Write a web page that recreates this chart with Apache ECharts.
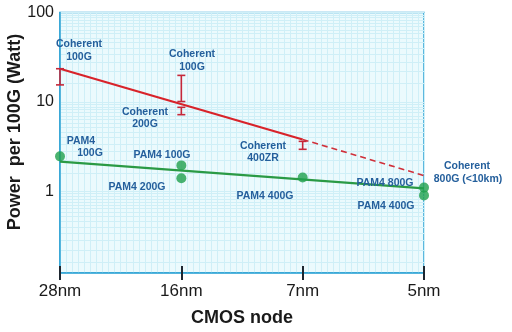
<!DOCTYPE html>
<html>
<head>
<meta charset="utf-8">
<script src="https://cdn.jsdelivr.net/npm/echarts@6/dist/echarts.min.js"></script>
<style>html,body{margin:0;padding:0;background:#fff}#c{width:512px;height:332px}</style>
</head>
<body>
<div id="c"></div>
<script>
// ---- data ----
const nodes = ['28nm', '16nm', '7nm', '5nm'];
const yTickLabels = [1, 10, 100];
const coherentTrendX = [0, 2];
const coherentTrendY = [23.5, 3.8];
const coherentProjX = [2, 3];
const coherentProjY = [3.8, 1.5];
const pam4TrendX = [0, 3];
const pam4TrendY = [2.15, 1.08];
const pam4PointX = [0, 1, 1, 2, 3, 3];
const pam4PointY = [2.46, 1.95, 1.4, 1.43, 1.1, 0.9];
const errX = [0, 1, 1, 2];
const errLow = [15.5, 10.1, 7.2, 2.95];
const errHigh = [23.5, 19.8, 8.7, 3.62];

const zip = (xs, ys) => xs.map((x, i) => [x, ys[i]]);

const txtColor = '#245f9c';
const annFont = 'bold 10.5px "Liberation Sans", Arial, sans-serif';
function ann(text, x, y) {
  return { type: 'text', x: x, y: y, z: 50,
    style: { text: text, font: annFont, fill: txtColor, align: 'center', verticalAlign: 'middle' } };
}

const chart = echarts.init(document.getElementById('c'), null, { renderer: 'canvas' });
const gridLine = '#cfeff7';
const option = {
  backgroundColor: '#ffffff',
  animation: false,
  grid: { left: 60, right: 88, top: 12.5, bottom: 57, show: true, backgroundColor: '#ebfafd',
          borderColor: '#2ea3d5', borderWidth: 1.5 },
  xAxis: [{
    type: 'value', min: 0, max: 3, interval: 1,
    axisLine: { lineStyle: { color: '#2ea3d5', width: 1.5 } },
    axisTick: { show: true, length: 7, lineStyle: { color: '#1d2630', width: 2 } },
    axisLabel: { formatter: v => nodes[Math.round(v)] || '', fontSize: 17, color: '#1a1a1a', margin: 10,
                 fontFamily: '"Liberation Sans", Arial, sans-serif' },
    splitLine: { show: true, lineStyle: { color: gridLine, width: 1 } },
    minorTick: { show: false, splitNumber: 20 },
    minorSplitLine: { show: true, lineStyle: { color: gridLine, width: 1 } },
    name: 'CMOS node', nameLocation: 'middle', nameGap: 36,
    nameTextStyle: { fontSize: 18, fontWeight: 'bold', color: '#1a1a1a', fontFamily: '"Liberation Sans", Arial, sans-serif' }
  }, {
    type: 'value', min: 0, max: 3, interval: 1, position: 'bottom',
    axisLine: { show: false },
    axisTick: { show: true, inside: true, length: 7, lineStyle: { color: '#1d2630', width: 2 } },
    axisLabel: { show: false }, splitLine: { show: false }
  }],
  yAxis: {
    type: 'log', logBase: 10, min: 0.122, max: 100,
    axisLine: { show: true, lineStyle: { color: '#2ea3d5', width: 1.5 } },
    axisTick: { show: false },
    axisLabel: {
      fontSize: 16, color: '#1a1a1a', margin: 6, fontFamily: '"Liberation Sans", Arial, sans-serif',
      formatter: v => {
        const r = Number(v.toPrecision(6));
        return yTickLabels.indexOf(r) >= 0 ? String(r) : '';
      }
    },
    splitLine: { show: true, lineStyle: { color: gridLine, width: 1 } },
    minorTick: { show: false, splitNumber: 15 },
    minorSplitLine: { show: true, lineStyle: { color: gridLine, width: 1 } }
  },
  series: [
    { type: 'line', data: zip(coherentTrendX, coherentTrendY), showSymbol: false, symbol: 'none',
      lineStyle: { color: '#d8232a', width: 2.2 }, z: 5 },
    { type: 'line', data: zip(coherentProjX, coherentProjY), showSymbol: false, symbol: 'none',
      lineStyle: { color: '#d0303a', width: 1.6, type: [6, 4] }, z: 5 },
    { type: 'line', data: zip(pam4TrendX, pam4TrendY), showSymbol: false, symbol: 'none',
      lineStyle: { color: '#2a9a45', width: 2.2 }, z: 5 },
    { type: 'scatter', data: zip(pam4PointX, pam4PointY), symbolSize: 10,
      itemStyle: { color: '#1fa04c' }, z: 6 },
    { type: 'custom', z: 7,
      data: errX.map((x, i) => [x, errLow[i], errHigh[i]]),
      renderItem: (params, api) => {
        const lo = api.coord([api.value(0), api.value(1)]);
        const hi = api.coord([api.value(0), api.value(2)]);
        const w = 4;
        const st = { stroke: '#c5283a', lineWidth: 1.6 };
        return { type: 'group', children: [
          { type: 'line', shape: { x1: hi[0], y1: hi[1], x2: lo[0], y2: lo[1] }, style: st },
          { type: 'line', shape: { x1: hi[0] - w, y1: hi[1], x2: hi[0] + w, y2: hi[1] }, style: st },
          { type: 'line', shape: { x1: lo[0] - w, y1: lo[1], x2: lo[0] + w, y2: lo[1] }, style: st }
        ] };
      }
    }
  ],
  graphic: [
    { type: 'text', x: 15, y: 132, rotation: Math.PI / 2, z: 50,
      style: { text: 'Power  per 100G (Watt)', font: 'bold 18px "Liberation Sans", Arial, sans-serif',
               fill: '#1a1a1a', align: 'center', verticalAlign: 'middle' } },
    ann('Coherent', 79, 44), ann('100G', 79, 57),
    ann('Coherent', 192, 54), ann('100G', 192, 67),
    ann('Coherent', 145, 112), ann('200G', 145, 124),
    ann('Coherent', 263, 146), ann('400ZR', 263, 158),
    ann('Coherent', 467, 166), ann('800G (<10km)', 468, 179),
    ann('PAM4', 81, 141), ann('100G', 90, 153),
    ann('PAM4 100G', 162, 155),
    ann('PAM4 200G', 137, 187),
    ann('PAM4 400G', 265, 196),
    ann('PAM4 800G', 385, 183),
    ann('PAM4 400G', 386, 206)
  ]
};
chart.setOption(option);
</script>
</body>
</html>
